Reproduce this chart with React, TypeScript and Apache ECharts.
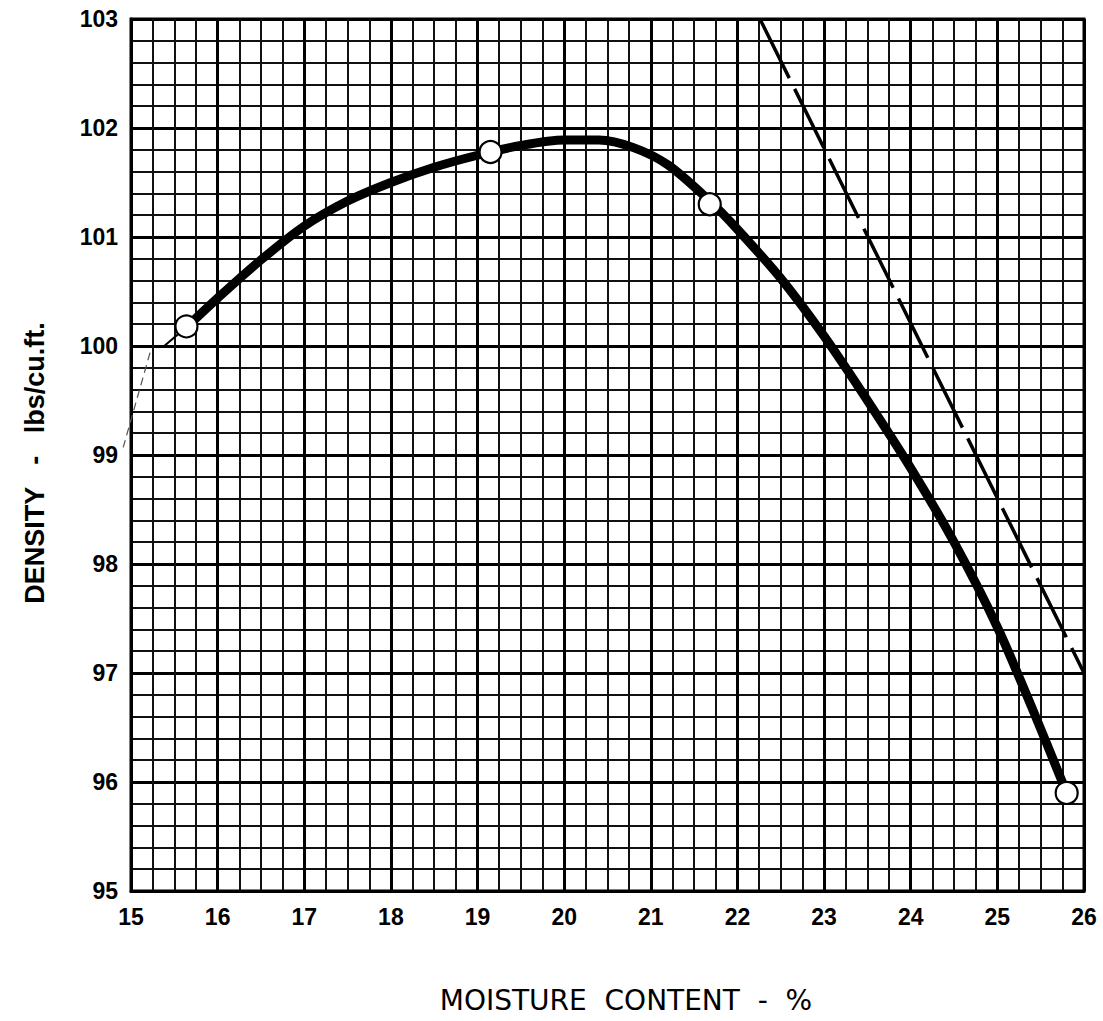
import React, { useEffect, useRef } from "react";
import * as echarts from "echarts";

// Tested points (moisture %, density lbs/cu.ft.)
const pointX = [15.64, 19.15, 21.68, 25.8];
const pointY = [100.18, 101.78, 101.3, 95.9];

// Fitted compaction curve
const curveX = [15.65, 16.0, 16.5, 17.0, 17.5, 18.0, 18.5, 19.0, 19.5, 20.0, 20.4, 20.8, 21.2, 21.68, 22.0, 22.5, 23.0, 23.5, 24.0, 24.5, 25.0, 25.4, 25.8];
const curveY = [100.18, 100.44, 100.79, 101.1, 101.33, 101.5, 101.64, 101.75, 101.84, 101.89, 101.89, 101.82, 101.66, 101.33, 101.07, 100.62, 100.09, 99.5, 98.88, 98.2, 97.42, 96.68, 95.9];

// Thin lead-in segment at the dry end
const leadX = [15.37, 15.65];
const leadY = [99.99, 100.18];

// Faint pencil extension
const faintX = [15.22, 14.91];
const faintY = [99.94, 99.07];

// Zero-air-voids (dashed) line
const zavX = [22.26, 26.0];
const zavY = [103.0, 97.0];

const xTicks = [15, 16, 17, 18, 19, 20, 21, 22, 23, 24, 25, 26];
const yTicks = [95, 96, 97, 98, 99, 100, 101, 102, 103];

const zip = (xs: number[], ys: number[]) => xs.map((x, i) => [x, ys[i]]);

export default function App() {
  const ref = useRef<HTMLDivElement>(null);
  useEffect(() => {
    if (!ref.current) return;
    const chart = echarts.init(ref.current, null, { renderer: "svg" });
    const labelFont = "'Liberation Sans', Arial, Helvetica, sans-serif";
    const titles = [
      {
        id: "ytitle",
        type: "text",
        x: 35,
        y: 463,
        rotation: Math.PI / 2,
        style: {
          text: "DENSITY   -   lbs/cu.ft.",
          fontSize: 27,
          fontWeight: "bold",
          fontFamily: labelFont,
          fill: "#000",
          align: "center",
          verticalAlign: "middle",
        },
      },
      {
        id: "xtitle",
        type: "text",
        x: 626,
        y: 1000,
        style: {
          text: "MOISTURE  CONTENT  -  %",
          fontSize: 28,
          fontFamily: "'DejaVu Sans', 'Open Sans', sans-serif",
          fill: "#000",
          align: "center",
          verticalAlign: "middle",
        },
      },
    ];
    chart.setOption({
      animation: false,
      backgroundColor: "#ffffff",
      grid: {
        left: 131,
        top: 19,
        width: 953,
        height: 872,
        show: true,
        borderColor: "#000",
        borderWidth: 3,
        backgroundColor: "transparent",
      },
      xAxis: {
        type: "value",
        min: xTicks[0],
        max: xTicks[xTicks.length - 1],
        interval: 1,
        axisLine: { show: true, lineStyle: { color: "#000", width: 3 } },
        axisTick: { show: false },
        axisLabel: { color: "#000", fontSize: 23, fontWeight: "bold", fontFamily: labelFont, margin: 14 },
        splitLine: { show: true, lineStyle: { color: "#000", width: 3 } },
        minorTick: { show: false, splitNumber: 4 },
        minorSplitLine: { show: true, lineStyle: { color: "#111", width: 2 } },
      },
      yAxis: {
        type: "value",
        min: yTicks[0],
        max: yTicks[yTicks.length - 1],
        interval: 1,
        axisLine: { show: true, lineStyle: { color: "#000", width: 3 } },
        axisTick: { show: false },
        axisLabel: { color: "#000", fontSize: 23, fontWeight: "bold", fontFamily: labelFont, margin: 13 },
        splitLine: { show: true, lineStyle: { color: "#000", width: 3 } },
        minorTick: { show: false, splitNumber: 5 },
        minorSplitLine: { show: true, lineStyle: { color: "#111", width: 2 } },
      },
      series: [
        {
          type: "line",
          data: zip(zavX, zavY),
          symbol: "none",
          lineStyle: { color: "#000", width: 3.5, type: [66, 12] },
          z: 4,
        },
        {
          type: "line",
          data: zip(leadX, leadY),
          symbol: "none",
          lineStyle: { color: "#000", width: 2 },
          z: 4,
        },
        {
          type: "line",
          data: zip(curveX, curveY),
          symbol: "none",
          smooth: 0.3,
          lineStyle: { color: "#000", width: 9, cap: "round" },
          z: 5,
        },
        {
          type: "scatter",
          data: zip(pointX, pointY),
          symbol: "circle",
          symbolSize: 22,
          itemStyle: { color: "#fff", borderColor: "#000", borderWidth: 2.2, opacity: 1 },
          z: 6,
        },
      ],
      graphic: titles,
    });
    // faint pencil extension runs outside the grid: place it through the axes' own scale
    try {
      const p0 = chart.convertToPixel({ gridIndex: 0 }, [faintX[0], faintY[0]]) as number[];
      const p1 = chart.convertToPixel({ gridIndex: 0 }, [faintX[1], faintY[1]]) as number[];
      chart.setOption({
        graphic: [
          ...titles,
          {
            id: "faint",
            type: "line",
            shape: { x1: p0[0], y1: p0[1], x2: p1[0], y2: p1[1] },
            style: { stroke: "#555", lineWidth: 1.2, lineDash: [8, 5] },
            z: 3,
          },
        ],
      });
    } catch (e) {
      // ignore
    }
    return () => chart.dispose();
  }, []);
  return (
    <div
      ref={ref}
      style={{ position: "absolute", left: 0, top: 0, width: 1103, height: 1021, background: "#fff" }}
    />
  );
}
